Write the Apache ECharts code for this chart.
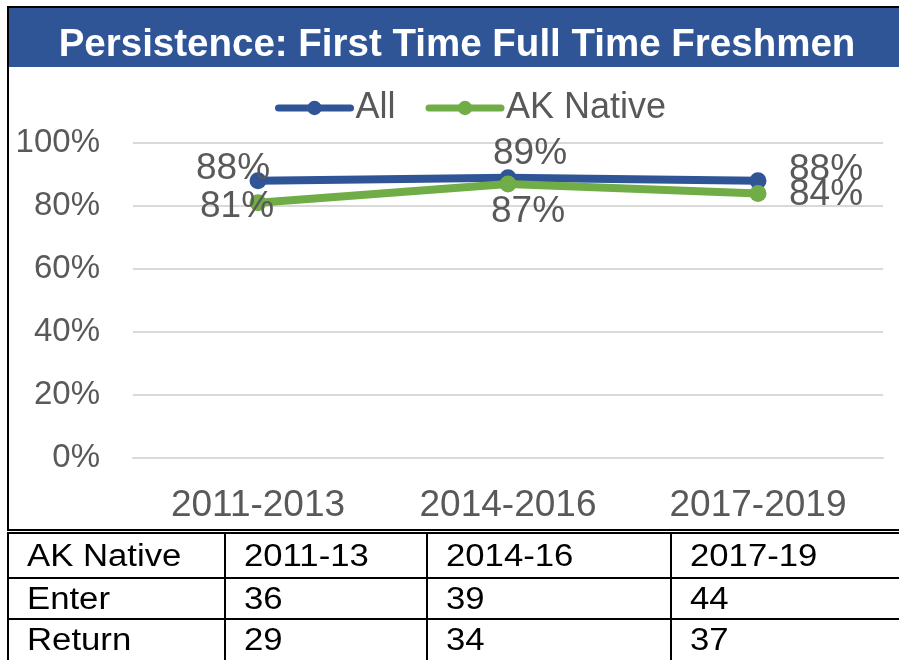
<!DOCTYPE html>
<html>
<head>
<meta charset="utf-8">
<title>Persistence: First Time Full Time Freshmen</title>
<script src="https://cdn.jsdelivr.net/npm/echarts@6/dist/echarts.min.js"></script>
<style>
  html, body { margin: 0; padding: 0; background: #fff; }
  #chart { width: 899px; height: 660px; }
</style>
</head>
<body>
<div id="chart"></div>
<script>
// chart data
const periods = ['2011-2013', '2014-2016', '2017-2019'];
const allValues = [88, 89, 88];
const akNativeValues = [81, 87, 84];

// table under the chart
const tableHeader = ['AK Native', '2011-13', '2014-16', '2017-19'];
const enterRow = ['Enter', 36, 39, 44];
const returnRow = ['Return', 29, 34, 37];

// label placement (offset from each point)
const allLabelOffsets = [[-25, -12], [22, -24], [68, -11]];
const akLabelOffsets = [[-21, 4], [20, 28], [68, 1]];

const FONT = '"Liberation Sans", Arial, sans-serif';
const textGrey = '#595959';
const blue = '#2F5597';
const green = '#70AD47';

function pointData(values, offsets) {
  return values.map((v, i) => ({
    value: v,
    label: { offset: offsets[i] }
  }));
}

// frame, title bar and table
const colX = [8, 225, 427, 671];
const rowY = [533, 578, 619, 660];
const tableRows = [tableHeader, enterRow, returnRow];

const graphics = [
  { type: 'rect', shape: { x: 8, y: 7, width: 905, height: 523 },
    style: { fill: 'none', stroke: '#000', lineWidth: 2 } },
  { type: 'rect', shape: { x: 9, y: 8, width: 895, height: 59 },
    style: { fill: blue } },
  { type: 'text', x: 457, y: 45,
    style: { text: 'Persistence: First Time Full Time Freshmen', fill: '#fff',
      fontSize: 38.5, fontWeight: 'bold', fontFamily: FONT,
      align: 'center', verticalAlign: 'middle' } },
  { type: 'rect', shape: { x: 8, y: 533, width: 905, height: 150 },
    style: { fill: 'none', stroke: '#000', lineWidth: 2 } }
];
colX.slice(1).forEach(x => {
  graphics.push({ type: 'line', shape: { x1: x, y1: 533, x2: x, y2: 670 },
    style: { stroke: '#000', lineWidth: 2 } });
});
rowY.slice(1, 3).forEach(y => {
  graphics.push({ type: 'line', shape: { x1: 8, y1: y, x2: 905, y2: y },
    style: { stroke: '#000', lineWidth: 2 } });
});
tableRows.forEach((row, r) => {
  row.forEach((cell, c) => {
    graphics.push({ type: 'text', x: colX[c] + 19, y: (rowY[r] + rowY[r + 1]) / 2 + 2,
      scaleX: 1.12,
      style: { text: String(cell), fill: '#000', fontSize: 31, fontFamily: FONT,
        align: 'left', verticalAlign: 'middle' } });
  });
});

const chart = echarts.init(document.getElementById('chart'));

const labelStyle = { show: true, position: 'inside', formatter: '{c}%', fontSize: 37, color: textGrey, fontFamily: FONT };

chart.setOption({
  animation: false,
  textStyle: { fontFamily: FONT },
  legend: {
    left: 270,
    top: 85,
    itemWidth: 72,
    itemHeight: 18,
    itemGap: 30,
    lineStyle: { width: 7, cap: 'round' },
    textStyle: { fontSize: 36, color: textGrey, fontFamily: FONT },
    data: ['All', 'AK Native']
  },
  grid: { left: 133, right: 16, top: 143, bottom: 202 },
  xAxis: {
    type: 'category',
    data: periods,
    axisLine: { show: true, lineStyle: { color: '#D9D9D9', width: 2 } },
    axisTick: { show: false },
    axisLabel: { fontSize: 37, color: textGrey, margin: 29, fontFamily: FONT }
  },
  yAxis: {
    type: 'value',
    min: 0,
    max: 100,
    interval: 20,
    axisLabel: { formatter: '{value}%', fontSize: 33, color: textGrey, margin: 33, fontFamily: FONT },
    splitLine: { lineStyle: { color: '#D9D9D9', width: 2 } }
  },
  series: [
    {
      name: 'All',
      type: 'line',
      data: pointData(allValues, allLabelOffsets),
      color: blue,
      symbol: 'circle',
      symbolSize: 17,
      lineStyle: { width: 8 },
      label: labelStyle,
      z: 3
    },
    {
      name: 'AK Native',
      type: 'line',
      data: pointData(akNativeValues, akLabelOffsets),
      color: green,
      symbol: 'circle',
      symbolSize: 17,
      lineStyle: { width: 8 },
      label: labelStyle,
      z: 4
    }
  ],
  graphic: graphics
});
</script>
</body>
</html>
